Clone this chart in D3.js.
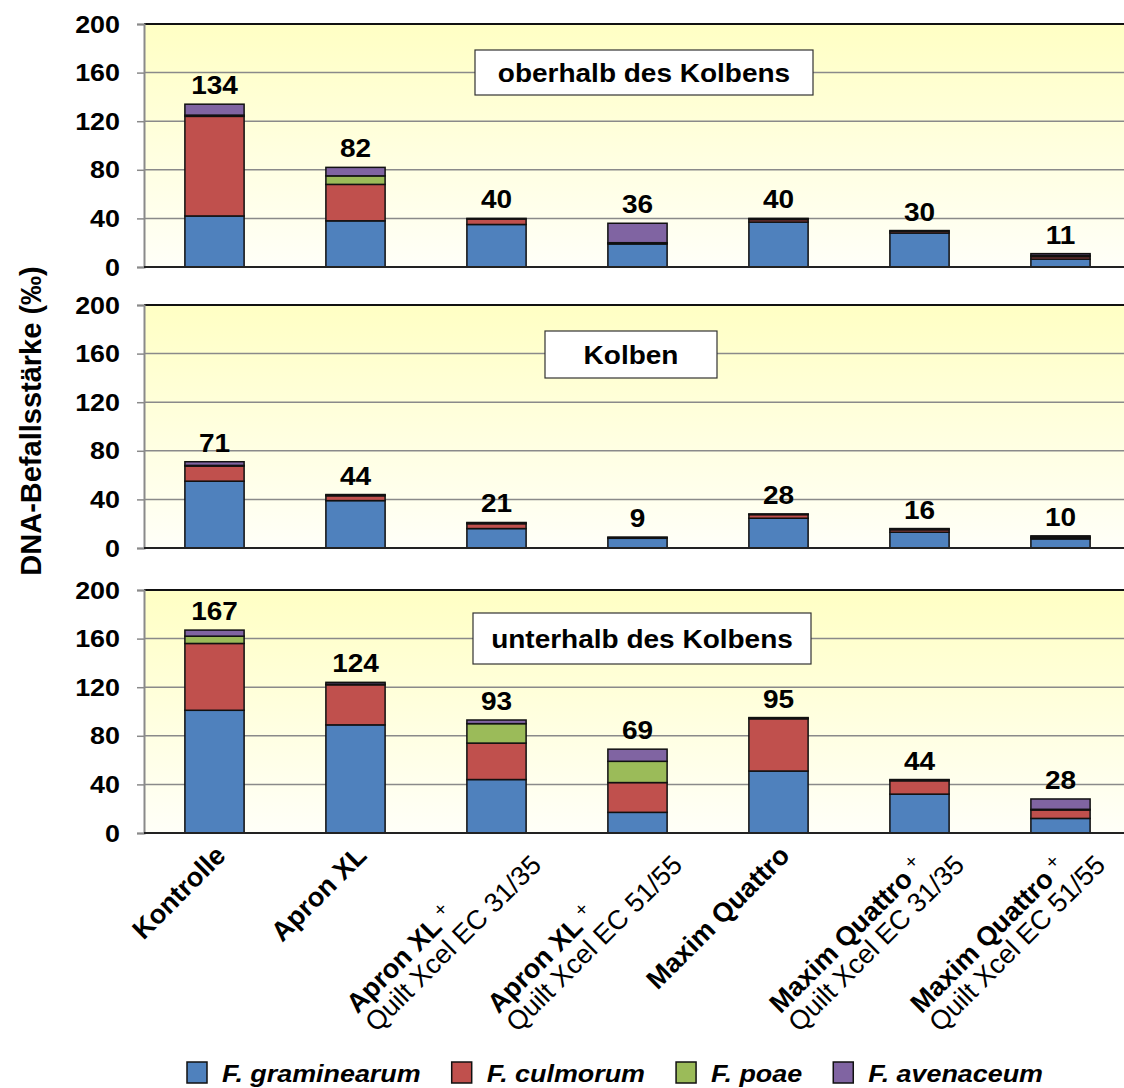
<!DOCTYPE html>
<html><head><meta charset="utf-8">
<script src="https://cdn.jsdelivr.net/npm/d3@7"></script>
<style>
body{margin:0;background:#fff}
svg{display:block}
text{font-family:"Liberation Sans",Arial,Helvetica,sans-serif}
</style>
</head><body>
<svg id="chart" width="1124" height="1088"></svg>
<script>
// ---------- data ----------
const categories = ["Kontrolle","Apron XL","Apron XL + Quilt Xcel EC 31/35","Apron XL + Quilt Xcel EC 51/55","Maxim Quattro","Maxim Quattro + Quilt Xcel EC 31/35","Maxim Quattro + Quilt Xcel EC 51/55"];
const labelLine1 = ["Kontrolle","Apron XL","Apron XL","Apron XL","Maxim Quattro","Maxim Quattro","Maxim Quattro"];
const labelLine2 = ["","","Quilt Xcel EC 31/35","Quilt Xcel EC 51/55","","Quilt Xcel EC 31/35","Quilt Xcel EC 51/55"];
const seriesNames = ["F. graminearum","F. culmorum","F. poae","F. avenaceum"];
const seriesColors = ["#4F81BD","#C0504D","#9BBB59","#8064A2"];
const panelTitles = ["oberhalb des Kolbens","Kolben","unterhalb des Kolbens"];
const yTicks = [0,40,80,120,160,200];
const yTitle = "DNA-Befallsstärke (‰)";

// oberhalb des Kolbens
const oberGraminearum = [42, 38, 35, 19, 37, 28, 6.5];
const oberCulmorum    = [82, 30, 4.5, 0.5, 2, 1.5, 2];
const oberPoae        = [1, 7, 0, 0.5, 0.5, 0.5, 1];
const oberAvenaceum   = [9, 7, 0.5, 16, 0.5, 0, 1.5];
const oberTotals      = [134, 82, 40, 36, 40, 30, 11];
// Kolben
const kolbenGraminearum = [55, 39, 16, 8, 24.5, 13, 7.5];
const kolbenCulmorum    = [12.5, 4, 4, 0.5, 3, 2, 1];
const kolbenPoae        = [0.5, 0.5, 0.5, 0, 0.25, 0.5, 0.5];
const kolbenAvenaceum   = [3, 0.5, 0.5, 0.5, 0.25, 0.5, 1];
const kolbenTotals      = [71, 44, 21, 9, 28, 16, 10];
// unterhalb des Kolbens
const unterGraminearum = [101, 89, 44, 17, 51, 32, 12];
const unterCulmorum    = [55, 33, 30, 24.5, 43, 11, 7];
const unterPoae        = [6, 0.5, 16, 17.5, 0.5, 0.5, 0.5];
const unterAvenaceum   = [5, 1.5, 3, 10, 0.5, 0.5, 8.5];
const unterTotals      = [167, 124, 93, 69, 95, 44, 28];

// ---------- build tables ----------
function table(g, c, p, a) {
  return categories.map((cat, i) => ({cat, "F. graminearum": g[i], "F. culmorum": c[i], "F. poae": p[i], "F. avenaceum": a[i]}));
}
const panelData = [
  {rows: table(oberGraminearum, oberCulmorum, oberPoae, oberAvenaceum), totals: oberTotals},
  {rows: table(kolbenGraminearum, kolbenCulmorum, kolbenPoae, kolbenAvenaceum), totals: kolbenTotals},
  {rows: table(unterGraminearum, unterCulmorum, unterPoae, unterAvenaceum), totals: unterTotals}
];

// ---------- layout ----------
const W = 1124, H = 1088;
const SX = 1.12; // horizontal stretch of the reference lettering
const plotLeft = 144, plotRight = 1131;
const panelBox = [ {top: 24, bottom: 267}, {top: 305, bottom: 548}, {top: 590, bottom: 833} ];
const titleBoxes = [ {x: 475, y: 50, w: 338, h: 45}, {x: 545, y: 331, w: 172, h: 47}, {x: 473, y: 613, w: 338, h: 51} ];

const svg = d3.select("#chart");
const defs = svg.append("defs");
const grad = defs.append("linearGradient").attr("id","bg").attr("x1",0).attr("y1",0).attr("x2",0).attr("y2",1);
grad.append("stop").attr("offset","0%").attr("stop-color","#FFFFC4");
grad.append("stop").attr("offset","100%").attr("stop-color","#FFFFF8");

function stretchedText(parent, x, y, str, size, anchor, weight, style) {
  const t = parent.append("text").attr("transform", `translate(${x},${y}) scale(${SX},1)`)
    .attr("text-anchor", anchor).attr("font-size", size).attr("font-weight", weight || "bold").text(str);
  if (style) t.attr("font-style", style);
  return t;
}

const x = d3.scaleBand().domain(categories).range([plotLeft, plotRight]).paddingInner(0.58).paddingOuter(0.29);
const stack = d3.stack().keys(seriesNames);

panelData.forEach((pd, pi) => {
  const pb = panelBox[pi];
  const y = d3.scaleLinear().domain([0, 200]).range([pb.bottom, pb.top]);
  const g = svg.append("g");

  g.append("rect").attr("x", plotLeft).attr("y", y(200)).attr("width", W - plotLeft).attr("height", y(0) - y(200)).attr("fill", "url(#bg)");

  // gridlines
  g.selectAll("line.grid").data(yTicks.filter(t => t > 0 && t < 200)).join("line")
    .attr("x1", plotLeft).attr("x2", W).attr("y1", d => y(d)).attr("y2", d => y(d))
    .attr("stroke", "#8a8a8a").attr("stroke-width", 1.5);
  // top border
  g.append("line").attr("x1", plotLeft).attr("x2", W).attr("y1", y(200)).attr("y2", y(200)).attr("stroke", "#111").attr("stroke-width", 2);

  // y axis
  const ax = g.append("g").attr("transform", `translate(${plotLeft},0)`)
    .call(d3.axisLeft(y).tickValues(yTicks).tickSize(7).tickFormat(() => ""));
  ax.select(".domain").attr("stroke", "#8a8a8a").attr("stroke-width", 2);
  ax.selectAll(".tick line").attr("stroke", "#8a8a8a").attr("stroke-width", 1.5);
  yTicks.forEach(t => stretchedText(g, plotLeft - 24, y(t) + 8.5, String(t), 24, "end"));

  // bars
  const series = stack(pd.rows);
  g.selectAll("g.s").data(series).join("g").attr("fill", (d, i) => seriesColors[i])
    .selectAll("rect").data(d => d).join("rect")
    .attr("x", d => x(d.data.cat)).attr("width", x.bandwidth())
    .attr("y", d => y(d[1])).attr("height", d => y(d[0]) - y(d[1]))
    .attr("stroke", "#111").attr("stroke-width", 1.5);

  // bottom axis line
  g.append("line").attr("x1", plotLeft).attr("x2", W).attr("y1", y(0)).attr("y2", y(0)).attr("stroke", "#222").attr("stroke-width", 2);

  // totals
  pd.totals.forEach((d, i) => stretchedText(g, x(categories[i]) + x.bandwidth() / 2, y(d) - 10, String(d), 25, "middle"));

  // title box
  const tb = titleBoxes[pi];
  g.append("rect").attr("x", tb.x).attr("y", tb.y).attr("width", tb.w).attr("height", tb.h)
    .attr("fill", "#fff").attr("stroke", "#333").attr("stroke-width", 1.2);
  stretchedText(g, tb.x + tb.w / 2, tb.y + tb.h / 2 + 9, panelTitles[pi], 25, "middle");
});

// x labels
const axisY = panelBox[2].bottom;
categories.forEach((cat, i) => {
  const cx = x(cat) + x.bandwidth() / 2;
  const g = svg.append("g").attr("transform", `translate(${cx},${axisY}) rotate(-45)`);
  const fs = 27;
  if (!labelLine2[i]) {
    g.append("text").attr("x", -8).attr("y", 26).attr("text-anchor", "end")
      .attr("font-size", fs).attr("font-weight", "bold").text(labelLine1[i]);
  } else {
    const t1 = g.append("text").attr("y", 30).attr("font-size", fs);
    t1.append("tspan").attr("font-weight", "bold").text(labelLine1[i]);
    t1.append("tspan").attr("font-size", 20).attr("dy", -9).text(" +");
    const t2 = g.append("text").attr("y", 56.5).attr("font-size", fs).text(labelLine2[i]);
    const w = Math.max(t1.node().getComputedTextLength(), t2.node().getComputedTextLength());
    t1.attr("x", -w + 9); t2.attr("x", -w + 9);
  }
});

// y title
svg.append("text").attr("transform", "translate(41,421) rotate(-90)").attr("text-anchor", "middle")
  .attr("font-size", 29).attr("font-weight", "bold").text(yTitle);

// legend
const lg = svg.append("g");
const legStart = 187, legEnd = 1043, sqW = 20, txtGap = 35;
const items = seriesNames.map((s, i) => {
  const t = stretchedText(lg, 0, 1082, s, 24, "start", "bold", "italic");
  return {t, w: t.node().getComputedTextLength() * SX};
});
const totalW = d3.sum(items, d => d.w + txtGap);
const gap = (legEnd - legStart - totalW) / (items.length - 1);
let cur = legStart;
items.forEach((it, i) => {
  lg.append("rect").attr("x", cur).attr("y", 1062).attr("width", sqW).attr("height", 21)
    .attr("fill", seriesColors[i]).attr("stroke", "#111").attr("stroke-width", 1.5);
  it.t.attr("transform", `translate(${cur + txtGap},1082) scale(${SX},1)`);
  cur += txtGap + it.w + gap;
});
</script>
</body></html>
